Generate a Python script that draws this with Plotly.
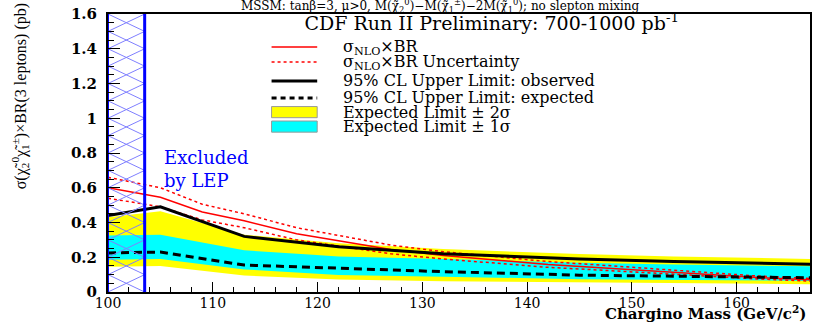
import numpy as np
import plotly.graph_objects as go

# chargino masses (GeV/c^2) where the limits were computed
mass_lim = [100, 105, 113, 122, 132, 145, 154, 167]
observed = [0.44, 0.49, 0.32, 0.26, 0.22, 0.19, 0.175, 0.16]
expected = [0.225, 0.23, 0.155, 0.135, 0.117, 0.097, 0.09, 0.082]
exp_p2s = [0.43, 0.465, 0.33, 0.28, 0.248, 0.218, 0.205, 0.19]
exp_p1s = [0.325, 0.33, 0.24, 0.205, 0.19, 0.168, 0.158, 0.148]
exp_m1s = [0.185, 0.19, 0.13, 0.098, 0.088, 0.074, 0.07, 0.064]
exp_m2s = [0.145, 0.15, 0.095, 0.072, 0.062, 0.055, 0.05, 0.045]

# theory sigma_NLO x BR and its uncertainty
mass_th = [100, 105, 109, 113, 118, 122, 127, 132, 137, 142, 147, 152, 157, 162, 167]
sigma = [0.60, 0.545, 0.46, 0.41, 0.335, 0.295, 0.245, 0.21, 0.185, 0.158, 0.14, 0.12, 0.10, 0.083, 0.07]
sigma_up = [0.66, 0.60, 0.505, 0.45, 0.37, 0.325, 0.27, 0.232, 0.205, 0.175, 0.155, 0.133, 0.11, 0.092, 0.078]
sigma_dn = [0.54, 0.49, 0.415, 0.37, 0.30, 0.265, 0.22, 0.19, 0.167, 0.142, 0.126, 0.108, 0.09, 0.075, 0.063]

lep_limit = 103.5
x_min, x_max = 100, 167
y_max = 1.6
hatch_step = 0.1

fig = go.Figure()

# expected bands
fig.add_trace(go.Scatter(x=mass_lim + mass_lim[::-1], y=exp_p2s + exp_m2s[::-1],
                         fill='toself', fillcolor='#ffff00', line=dict(width=0),
                         mode='lines', hoverinfo='skip'))
fig.add_trace(go.Scatter(x=mass_lim + mass_lim[::-1], y=exp_p1s + exp_m1s[::-1],
                         fill='toself', fillcolor='#00ffff', line=dict(width=0),
                         mode='lines', hoverinfo='skip'))

# theory
fig.add_trace(go.Scatter(x=mass_th, y=sigma_up, mode='lines',
                         line=dict(color='#ff0000', width=1.5, dash='dot')))
fig.add_trace(go.Scatter(x=mass_th, y=sigma_dn, mode='lines',
                         line=dict(color='#ff0000', width=1.5, dash='dot')))
fig.add_trace(go.Scatter(x=mass_th, y=sigma, mode='lines',
                         line=dict(color='#ff0000', width=1.5)))

# limits
fig.add_trace(go.Scatter(x=mass_lim, y=observed, mode='lines',
                         line=dict(color='black', width=3)))
fig.add_trace(go.Scatter(x=mass_lim, y=expected, mode='lines',
                         line=dict(color='black', width=3, dash='8px,5px')))

# LEP excluded region: cross hatching
hx, hy = [], []
for y0 in np.arange(0, y_max, hatch_step):
    hx += [x_min, lep_limit, None, x_min, lep_limit, None]
    hy += [y0, y0 + hatch_step, None, y0 + hatch_step, y0, None]
fig.add_trace(go.Scatter(x=hx, y=hy, mode='lines', line=dict(color='#7f7fff', width=1),
                         hoverinfo='skip'))
fig.add_trace(go.Scatter(x=[x_min, x_min], y=[0, y_max], mode='lines',
                         line=dict(color='#0000ff', width=2)))
fig.add_trace(go.Scatter(x=[lep_limit, lep_limit], y=[0, y_max], mode='lines',
                         line=dict(color='#0000ff', width=3)))

# hand-made legend (ROOT style)
leg_x0, leg_x1, leg_tx = 0.233, 0.298, 0.332
rows = [
    (0.881, 'line', dict(color='#ff0000', width=1.5), 'σ<sub>NLO</sub>×BR'),
    (0.827, 'line', dict(color='#ff0000', width=1.5, dash='dot'), 'σ<sub>NLO</sub>×BR Uncertainty'),
    (0.759, 'line', dict(color='black', width=3), '95% CL Upper Limit: observed'),
    (0.698, 'line', dict(color='black', width=3, dash='5px,4px'), '95% CL Upper Limit: expected'),
    (0.647, 'box', '#ffff00', 'Expected Limit ± 2σ'),
    (0.595, 'box', '#00ffff', 'Expected Limit ± 1σ'),
]
for y, kind, style, label in rows:
    if kind == 'line':
        fig.add_shape(type='line', xref='paper', yref='paper', x0=leg_x0, x1=leg_x1,
                      y0=y, y1=y, line=style)
    else:
        fig.add_shape(type='rect', xref='paper', yref='paper', x0=leg_x0, x1=leg_x1,
                      y0=y - 0.02, y1=y + 0.02, fillcolor=style,
                      line=dict(color='#999999', width=1))
    fig.add_annotation(x=leg_tx, y=y, xref='paper', yref='paper', text=label,
                       showarrow=False, xanchor='left', yanchor='middle',
                       font=dict(size=16, color='black'))

fig.add_annotation(x=0.474, y=1.0504, xref='paper', yref='paper', showarrow=False,
                   yanchor='top', borderpad=0, yshift=4,
                   text='MSSM: tanβ=3, μ>0, M(χ̃<sub>2</sub><sup>0</sup>)−M(χ̃<sub>1</sub><sup>±</sup>)'
                        '−2M(χ̃<sub>1</sub><sup>0</sup>); no slepton mixing',
                   font=dict(size=12, color='black'))
fig.add_annotation(x=0.077, y=0.53, xref='paper', yref='paper', showarrow=False,
                   text='Excluded<br>by LEP', align='left', xanchor='left', yanchor='top',
                   font=dict(size=18, color='#0000ff'))
fig.add_annotation(x=0.997, y=-0.0755, xref='paper', yref='paper', showarrow=False,
                   text='Chargino Mass (GeV/c<sup>2</sup>)', xanchor='right', yanchor='middle',
                   font=dict(size=15, color='black', weight='bold'))
fig.add_annotation(x=-0.125, y=0.705, xref='paper', yref='paper', showarrow=False,
                   textangle=-90, xanchor='center', yanchor='middle',
                   text='σ(χ̃<sub>2</sub><sup>0</sup>χ̃<sub>1</sub><sup>±</sup>)×BR(3 leptons) (pb)',
                   font=dict(size=16, color='black',
                             family='Liberation Sans Narrow, Liberation Serif'))

fig.update_layout(
    width=814, height=322,
    margin=dict(l=108, r=2, t=14, b=30),
    paper_bgcolor='white', plot_bgcolor='white',
    showlegend=False,
    font=dict(family='DejaVu Serif', color='black'),
    title=dict(text='CDF Run II Preliminary: 700-1000 pb<sup>-1</sup>',
               x=0.604, xanchor='center', y=0.928, yanchor='middle', yref='container',
               font=dict(size=19, color='black')),
    xaxis=dict(range=[x_min, x_max], dtick=10, showgrid=False, zeroline=False,
               showline=True, linecolor='black', linewidth=2, mirror=True,
               ticks='inside', ticklen=10, tickcolor='black',
               minor=dict(ticks='inside', ticklen=5, dtick=2, tickcolor='black'),
               tickfont=dict(size=14), ticklabelstandoff=-3),
    yaxis=dict(range=[0, y_max], dtick=0.2, showgrid=False, zeroline=False,
               showline=True, linecolor='black', linewidth=2, mirror=True,
               ticks='inside', ticklen=12, tickcolor='black',
               minor=dict(ticks='inside', ticklen=6, dtick=0.05, tickcolor='black'),
               tickfont=dict(size=15, weight='bold'), ticklabelstandoff=6,
               ticklabeloverflow='allow'),
)

# drop the default 8px page margin so the figure fills the window
fig.write_html("out.html", config={'displayModeBar': False},
               post_script="document.body.style.margin = '0px';")
